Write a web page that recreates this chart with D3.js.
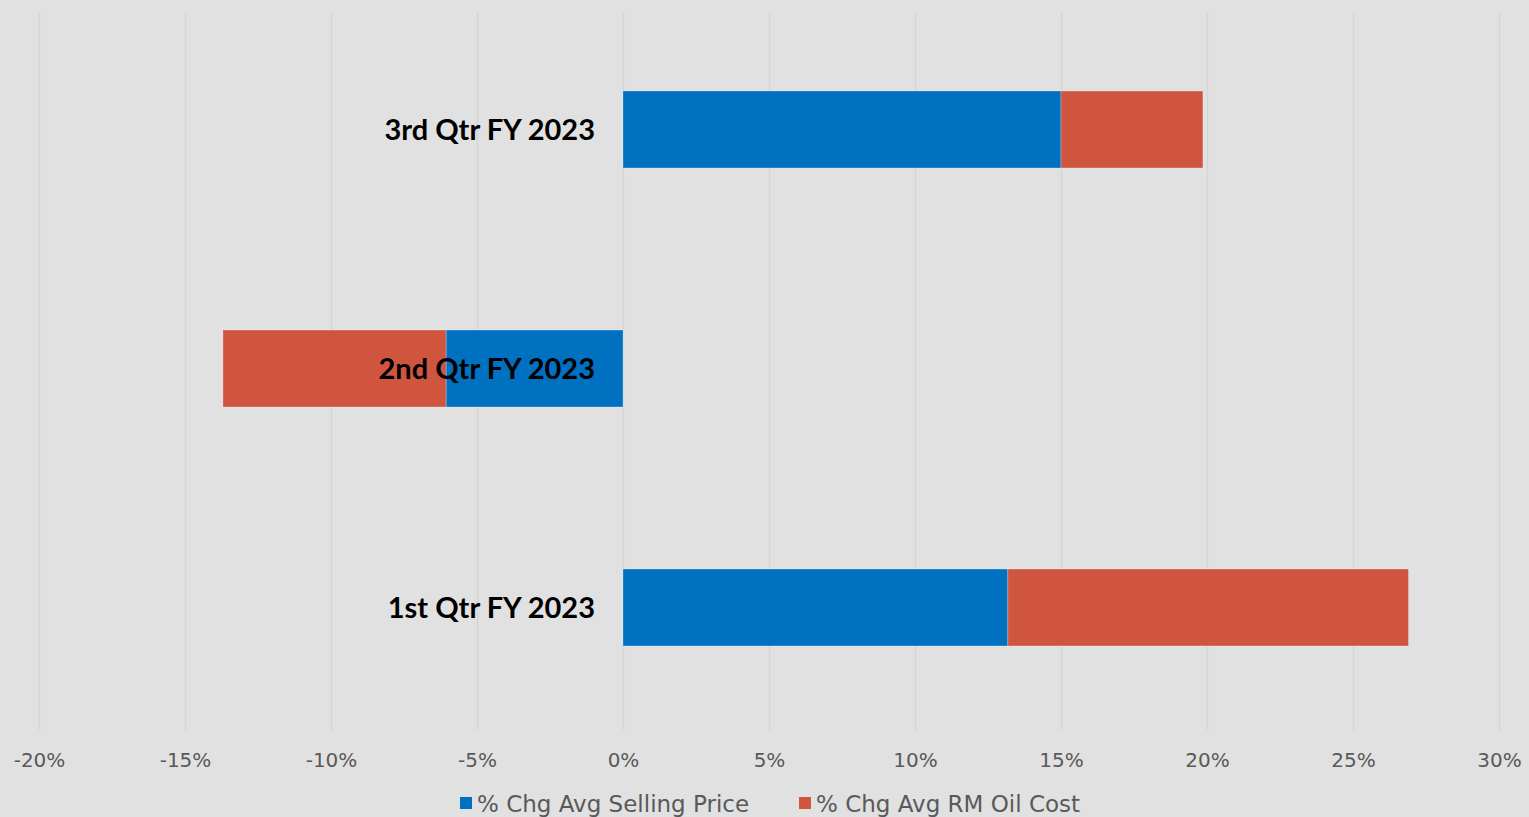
<!DOCTYPE html>
<html>
<head>
<meta charset="utf-8">
<script src="https://cdn.jsdelivr.net/npm/d3@7"></script>
<style>
  body { margin: 0; background: #e1e1e1; }
  svg { display: block; }
</style>
</head>
<body>
<div id="chart"></div>
<script>
var width = 1529, height = 817;

// data
var quarters = ["3rd Qtr FY 2023", "2nd Qtr FY 2023", "1st Qtr FY 2023"];
var sellingPrice = [0.15, -0.0606, 0.1318];
var oilCost = [0.0486, -0.0764, 0.1372];
var seriesNames = ["% Chg Avg Selling Price", "% Chg Avg RM Oil Cost"];
var seriesColors = ["#0070c0", "#cf553f"];
var tickValues = [-0.2, -0.15, -0.1, -0.05, 0, 0.05, 0.1, 0.15, 0.2, 0.25, 0.3];

var svg = d3.select("#chart")
  .append("svg")
  .attr("width", width)
  .attr("height", height)
  .style("background-color", "#e1e1e1");

var x = d3.scaleLinear()
  .domain([-0.2, 0.3])
  .range([39, 1499]);

var y = d3.scaleBand()
  .domain(quarters)
  .range([10, 727])
  .paddingInner(0.678)
  .paddingOuter(0.339);

// vertical gridlines
svg.append("g")
  .selectAll("line")
  .data(tickValues)
  .enter()
  .append("line")
  .attr("x1", function(d) { return Math.round(x(d)) + 0.5; })
  .attr("x2", function(d) { return Math.round(x(d)) + 0.5; })
  .attr("y1", 12)
  .attr("y2", 730)
  .attr("stroke", "#d5d5d5")
  .attr("stroke-width", 1.5);

// stacked bars, second segment continues from the end of the first
var rows = quarters.map(function(q, i) {
  return { q: q, a: sellingPrice[i], b: oilCost[i] };
});

var bars = svg.append("g");
rows.forEach(function(r) {
  var segs = [[0, r.a], [r.a, r.a + r.b]];
  segs.forEach(function(s, k) {
    bars.append("rect")
      .attr("x", x(Math.min(s[0], s[1])))
      .attr("y", y(r.q))
      .attr("width", Math.abs(x(s[1]) - x(s[0])))
      .attr("height", y.bandwidth())
      .attr("fill", seriesColors[k])
      .attr("stroke", "rgba(255,255,255,0.35)")
      .attr("stroke-width", 0.75);
  });
});

// category labels, sitting left of the zero line
svg.append("g")
  .selectAll("text")
  .data(quarters)
  .enter()
  .append("text")
  .attr("x", x(0) - 28)
  .attr("y", function(d) { return y(d) + y.bandwidth() / 2 + 10; })
  .attr("text-anchor", "end")
  .attr("font-family", "Lato, sans-serif")
  .attr("font-weight", "bold")
  .attr("font-size", "29px")
  .attr("fill", "#000")
  .text(function(d) { return d; });

// x axis
var xAxis = svg.append("g")
  .attr("transform", "translate(0,745)")
  .call(d3.axisBottom(x).tickValues(tickValues).tickFormat(d3.format(".0%")).tickSize(0));
xAxis.select(".domain").remove();
xAxis.selectAll("text")
  .attr("dy", "0")
  .attr("y", 22)
  .attr("font-family", "DejaVu Sans, sans-serif")
  .attr("font-size", "20px")
  .attr("fill", "#595959")
  .text(function(d) { return d3.format(".0%")(d).replace("−", "-"); });

// legend
var legendX = [460, 799];
var legend = svg.append("g");
seriesNames.forEach(function(n, i) {
  legend.append("rect")
    .attr("x", legendX[i])
    .attr("y", 797)
    .attr("width", 12)
    .attr("height", 12)
    .attr("fill", seriesColors[i]);
  legend.append("text")
    .attr("x", legendX[i] + 17)
    .attr("y", 812)
    .attr("font-family", "DejaVu Sans, sans-serif")
    .attr("font-size", "23px")
    .attr("fill", "#595959")
    .text(n);
});
</script>
</body>
</html>
